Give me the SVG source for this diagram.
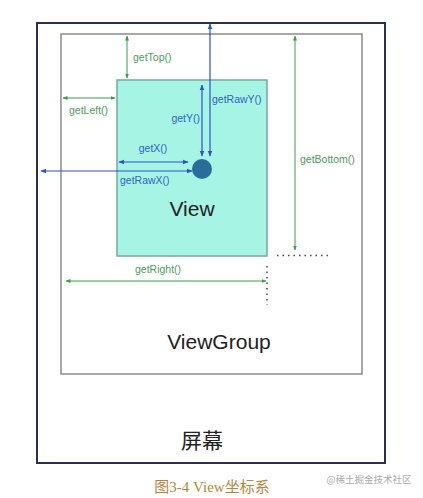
<svg xmlns="http://www.w3.org/2000/svg" width="423" height="498" viewBox="0 0 423 498">
<defs>
<marker id="ag" viewBox="0 0 10 10" refX="9" refY="5" markerWidth="5" markerHeight="5" orient="auto-start-reverse"><path d="M0,1 L10,5 L0,9 z" fill="#3f9a4f"/></marker>
<marker id="ab" viewBox="0 0 10 10" refX="9" refY="5" markerWidth="5" markerHeight="5" orient="auto-start-reverse"><path d="M0,1 L10,5 L0,9 z" fill="#2d4fd6"/></marker>
</defs>
<style>
.g{stroke:#3f9a4f;stroke-width:1;fill:none}
.b{stroke:#2d4fd6;stroke-width:1.2;fill:none}
.gt{font-family:"Liberation Sans",Arial,sans-serif;font-size:10.5px;fill:#4a9e5a}
.bt{font-family:"Liberation Sans",Arial,sans-serif;font-size:10.5px;fill:#3262c8}
.big{font-family:"Liberation Sans",Arial,sans-serif;font-size:21px;fill:#222}
.dot{stroke:#444;stroke-width:1.5;stroke-dasharray:1.5,4;fill:none}
</style>
<rect width="423" height="498" fill="#fff"/>
<g id="screen">
<rect x="37" y="23" width="348" height="440" fill="#fff" stroke="#2b2f55" stroke-width="2"/>
<text class="big" x="202" y="448" text-anchor="middle" style="font-family:'Noto Sans CJK SC',sans-serif">屏幕</text>
</g>
<g id="viewgroup">
<rect x="61" y="34" width="301" height="340" fill="#fff" stroke="#8a8a8a" stroke-width="1.5"/>
<text class="big" x="219" y="349" text-anchor="middle">ViewGroup</text>
</g>
<g id="view">
<rect x="117" y="80" width="150" height="176" fill="#a6f4e3" stroke="#7aa89a" stroke-width="1.5"/>
<text class="big" x="192" y="216" text-anchor="middle">View</text>
</g>
<g id="point">
<circle cx="202" cy="169" r="10" fill="#2a6d98"/>
</g>
<g id="connectors">
<line class="g" x1="127" y1="36" x2="127" y2="78" marker-start="url(#ag)" marker-end="url(#ag)"/>
<line class="g" x1="63" y1="98" x2="115" y2="98" marker-start="url(#ag)" marker-end="url(#ag)"/>
<line class="g" x1="295" y1="36" x2="295" y2="250" marker-start="url(#ag)" marker-end="url(#ag)"/>
<line class="g" x1="66" y1="281" x2="266" y2="281" marker-start="url(#ag)" marker-end="url(#ag)"/>
<line class="b" x1="210" y1="24" x2="210" y2="156" marker-start="url(#ab)" marker-end="url(#ab)"/>
<line class="b" x1="202" y1="85" x2="202" y2="156" marker-start="url(#ab)" marker-end="url(#ab)"/>
<line class="b" x1="119" y1="162" x2="188" y2="162" marker-start="url(#ab)" marker-end="url(#ab)"/>
<line class="b" x1="41" y1="171" x2="192" y2="171" marker-start="url(#ab)" marker-end="url(#ab)"/>
<line class="dot" x1="277" y1="255.5" x2="328" y2="255.5"/>
<line class="dot" x1="267" y1="266" x2="267" y2="305"/>
</g>
<g id="labels">
<text class="gt" x="133" y="61">getTop()</text>
<text class="gt" x="69" y="114">getLeft()</text>
<text class="gt" x="300" y="163">getBottom()</text>
<text class="gt" x="135" y="273">getRight()</text>
<text class="bt" x="212" y="103">getRawY()</text>
<text class="bt" x="200" y="122" text-anchor="end">getY()</text>
<text class="bt" x="153" y="152" text-anchor="middle">getX()</text>
<text class="bt" x="120" y="184">getRawX()</text>
</g>
<text x="212" y="492" text-anchor="middle" style="font-family:'Liberation Serif','Noto Sans CJK SC',serif;font-size:15px;fill:#b8863b">图3-4 View坐标系</text>
<text x="369" y="483" text-anchor="middle" style="font-family:'Noto Sans CJK SC',sans-serif;font-size:9.5px;fill:#aaa">@稀土掘金技术社区</text>
</svg>
